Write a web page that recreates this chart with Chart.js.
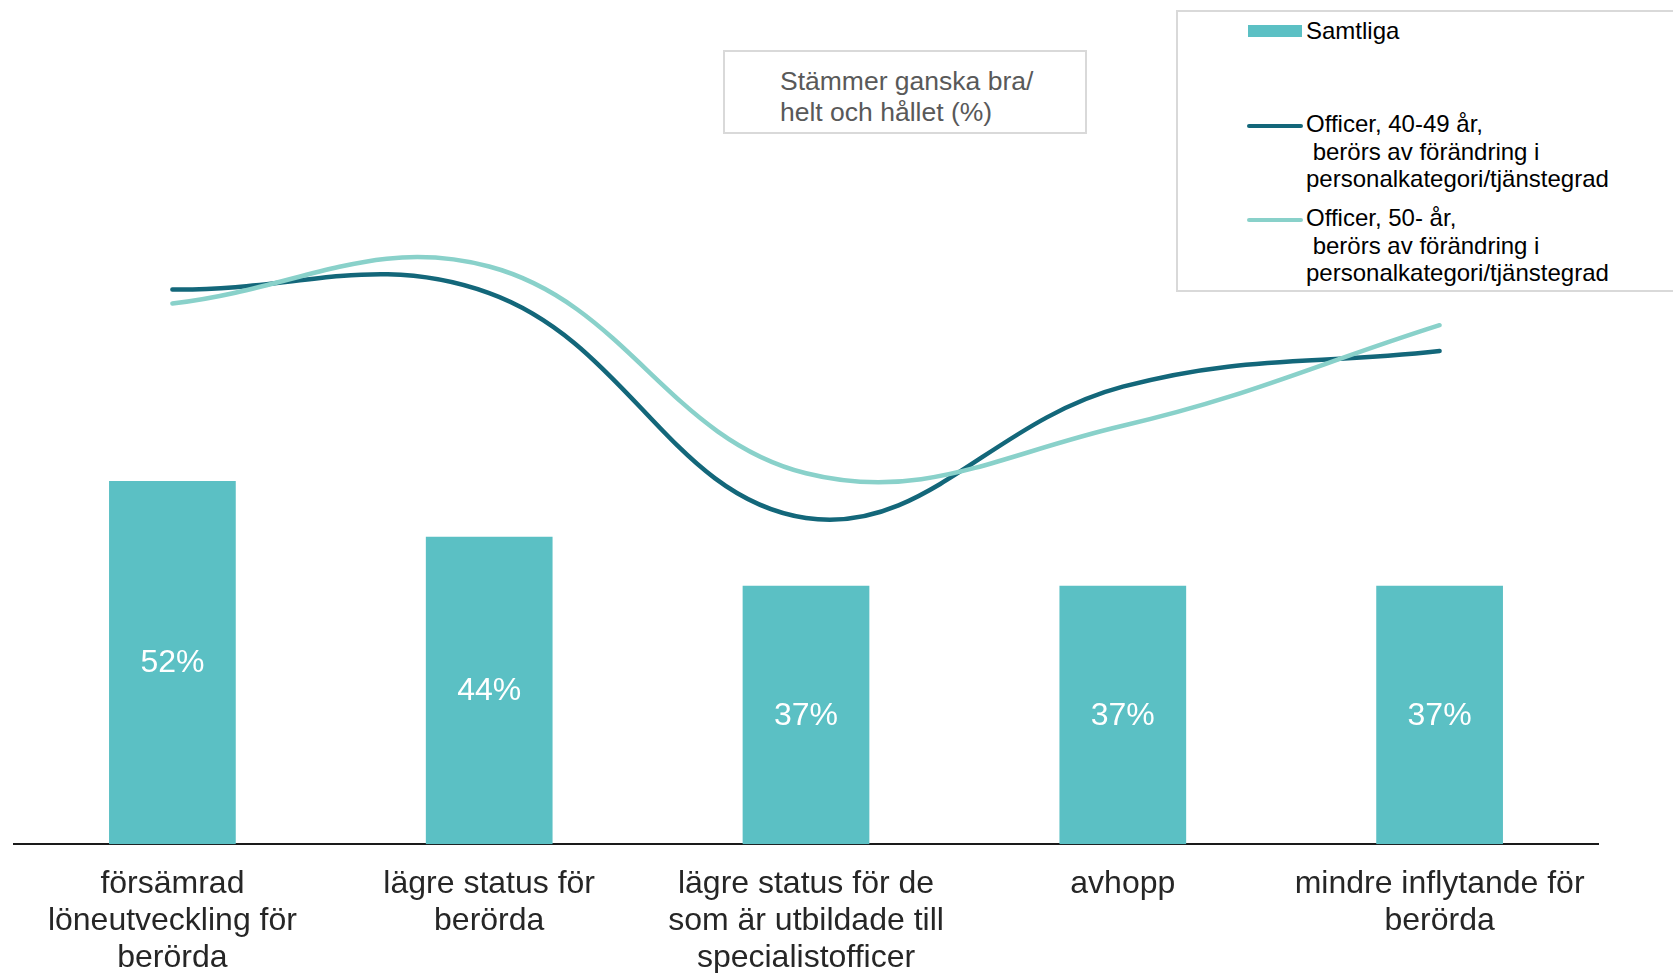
<!DOCTYPE html>
<html lang="sv">
<head>
<meta charset="utf-8">
<script src="https://cdn.jsdelivr.net/npm/chart.js@4.4.1/dist/chart.umd.min.js"></script>
<style>
  body { margin: 0; background: #fff; font-family: "Liberation Sans", Arial, sans-serif; }
  #wrap { position: relative; width: 1673px; height: 973px; overflow: hidden; }
  #chart { position: absolute; left: 0; top: 0; }
  .box { position: absolute; border: 2px solid #d9d9d9; box-sizing: border-box; background: #fff; }
  #titleBox { left: 723px; top: 50px; width: 364px; height: 84px; }
  #titleBox div { position: absolute; left: 55px; top: 14px; font-size: 26.5px; line-height: 31px; color: #595959; white-space: pre; }
  #legend { left: 1176px; top: 10px; width: 540px; height: 282px; }
  .lg-swatch { position: absolute; }
  .lg-text { position: absolute; font-size: 24px; line-height: 27.5px; color: #000; white-space: pre; }
</style>
</head>
<body>
<div id="wrap">
  <canvas id="chart" width="1673" height="998"></canvas>
  <div id="titleBox" class="box"><div>Stämmer ganska bra/
helt och hållet (%)</div></div>
  <div id="legend" class="box"></div>
</div>
<script>
// --- data ---
const categories = [
  ['försämrad', 'löneutveckling för', 'berörda'],
  ['lägre status för', 'berörda'],
  ['lägre status för de', 'som är utbildade till', 'specialistofficer'],
  ['avhopp'],
  ['mindre inflytande för', 'berörda']
];
const seriesNames = [
  'Samtliga',
  'Officer, 40-49 år,\n berörs av förändring i\npersonalkategori/tjänstegrad',
  'Officer, 50- år,\n berörs av förändring i\npersonalkategori/tjänstegrad'
];
const samtliga = [52, 44, 37, 37, 37];
const officer4049 = [79.4, 78.9, 46.7, 65.5, 70.6];
const officer50 = [77.4, 82.7, 53.1, 59.9, 74.3];

const BAR_COLOR = '#5bc0c4';
const DARK_LINE = '#13677a';
const LIGHT_LINE = '#89d1ca';
const FONT = '"Liberation Sans", Arial, sans-serif';

// white percentage labels centred in each bar
const barLabels = {
  id: 'barLabels',
  afterDatasetsDraw(chart) {
    const ctx = chart.ctx;
    const meta = chart.getDatasetMeta(0);
    ctx.save();
    ctx.fillStyle = '#ffffff';
    ctx.font = '32px ' + FONT;
    ctx.textAlign = 'center';
    ctx.textBaseline = 'middle';
    meta.data.forEach((bar, i) => {
      ctx.fillText(samtliga[i] + '%', bar.x, (bar.y + bar.base) / 2 + 1);
    });
    ctx.restore();
  }
};

const chart = new Chart(document.getElementById('chart'), {
  type: 'bar',
  data: {
    labels: categories,
    datasets: [
      {
        type: 'bar',
        label: seriesNames[0],
        data: samtliga,
        backgroundColor: BAR_COLOR,
        barPercentage: 0.4,
        categoryPercentage: 1,
        order: 3
      },
      {
        type: 'line',
        label: seriesNames[1],
        data: officer4049,
        borderColor: DARK_LINE,
        borderWidth: 4.5,
        borderCapStyle: 'round',
        pointRadius: 0,
        tension: 0.4,
        order: 2
      },
      {
        type: 'line',
        label: seriesNames[2],
        data: officer50,
        borderColor: LIGHT_LINE,
        borderWidth: 4.5,
        borderCapStyle: 'round',
        pointRadius: 0,
        tension: 0.4,
        order: 1
      }
    ]
  },
  options: {
    responsive: false,
    animation: false,
    layout: { padding: { left: 14, right: 75, top: 6, bottom: 0 } },
    plugins: { legend: { display: false }, tooltip: { enabled: false } },
    scales: {
      x: {
        grid: { display: false, drawTicks: false },
        border: { display: true, color: '#1a1a1a', width: 2 },
        ticks: {
          color: '#262626',
          padding: 21,
          maxRotation: 0,
          autoSkip: false,
          font: { family: FONT, size: 32, lineHeight: 1.165 }
        }
      },
      y: {
        display: false,
        min: 0,
        max: 120
      }
    }
  },
  plugins: [barLabels]
});

// legend built from the dataset definitions
const legendEl = document.getElementById('legend');
const legendRows = [
  { top: 5, swatch: { left: 70, top: 13, width: 54, height: 12, radius: 0 } },
  { top: 98, swatch: { left: 69, top: 112, width: 56, height: 4, radius: 2 } },
  { top: 192, swatch: { left: 69, top: 206, width: 56, height: 4, radius: 2 } }
];
chart.data.datasets.forEach((ds, i) => {
  const row = legendRows[i];
  const sw = document.createElement('div');
  sw.className = 'lg-swatch';
  Object.assign(sw.style, {
    left: row.swatch.left + 'px', top: row.swatch.top + 'px',
    width: row.swatch.width + 'px', height: row.swatch.height + 'px',
    borderRadius: row.swatch.radius + 'px',
    background: ds.type === 'bar' ? ds.backgroundColor : ds.borderColor
  });
  const tx = document.createElement('div');
  tx.className = 'lg-text';
  tx.style.left = '128px';
  tx.style.top = row.top + 'px';
  tx.textContent = ds.label;
  legendEl.appendChild(sw);
  legendEl.appendChild(tx);
});
</script>
</body>
</html>
